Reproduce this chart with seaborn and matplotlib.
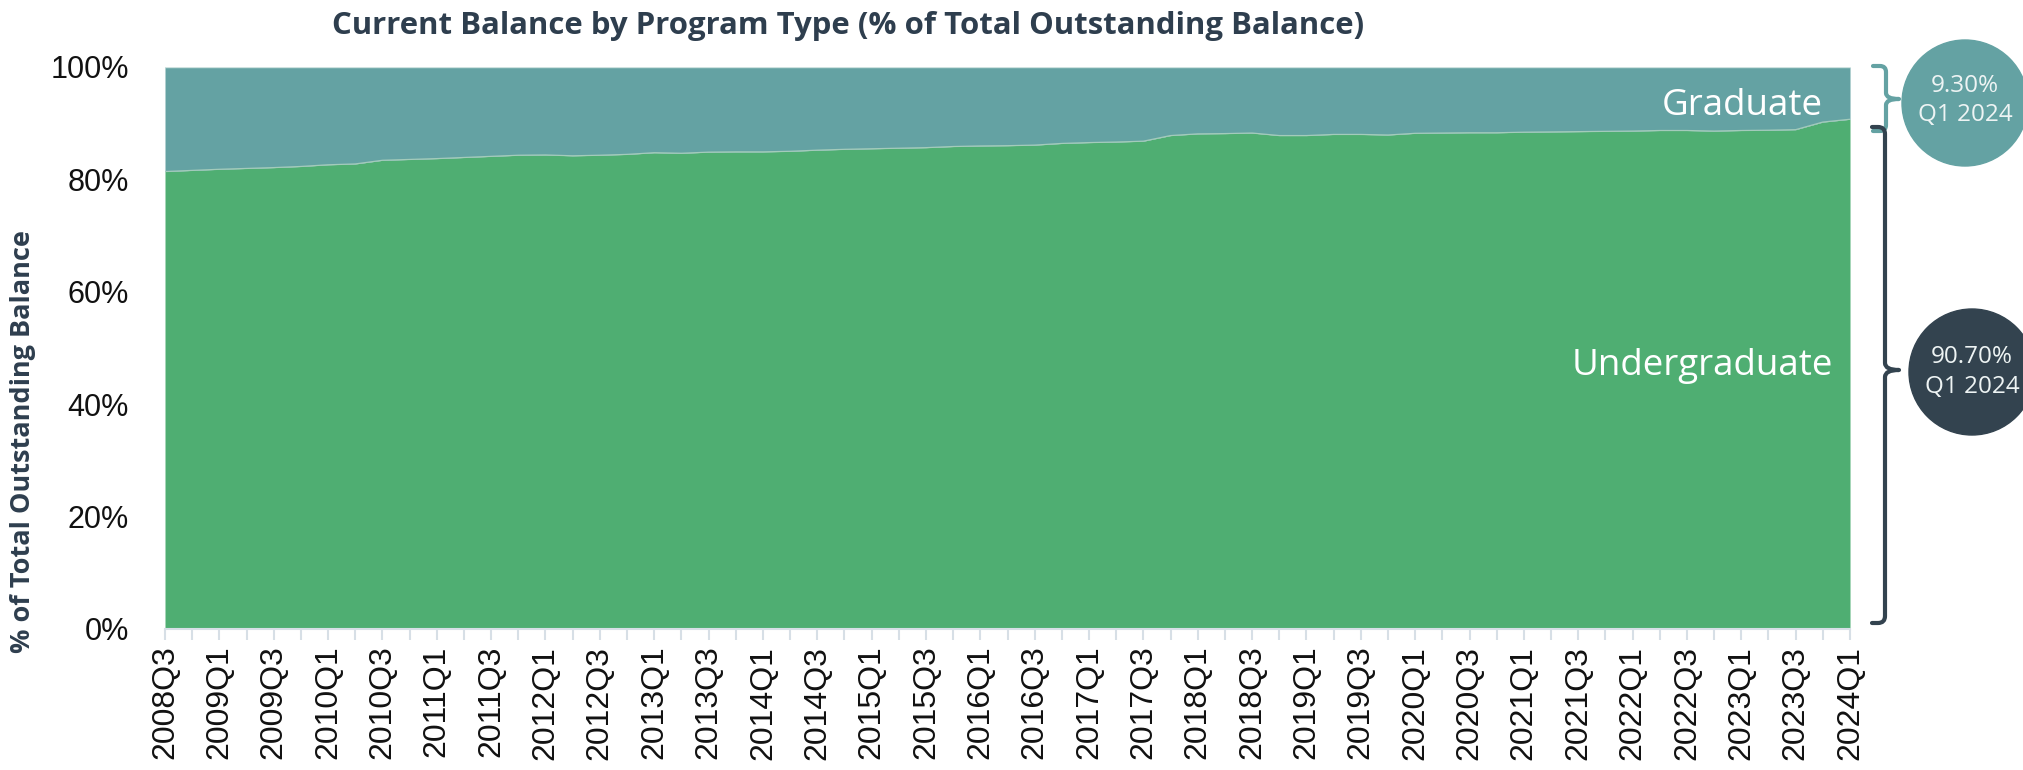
import numpy as np
import pandas as pd
import matplotlib
matplotlib.use("Agg")
import matplotlib.pyplot as plt
import seaborn as sns
from matplotlib.patches import Circle, PathPatch
from matplotlib.path import Path

# ---------------- data ----------------
years_q = [(2008, 3), (2008, 4)] + [(y, q) for y in range(2009, 2024) for q in (1, 2, 3, 4)] + [(2024, 1)]
quarters = [f"{y}Q{q}" for y, q in years_q]

undergrad_pct = [81.4, 81.6, 81.8, 81.95, 82.1, 82.3, 82.6, 82.75, 83.4, 83.55,
                 83.7, 83.9, 84.1, 84.3, 84.35, 84.2, 84.3, 84.45, 84.75, 84.65,
                 84.85, 84.9, 84.9, 85.0, 85.2, 85.35, 85.45, 85.55, 85.65, 85.85,
                 85.95, 86.0, 86.1, 86.4, 86.55, 86.65, 86.8, 87.8, 88.1, 88.15,
                 88.25, 87.8, 87.8, 88.0, 88.0, 87.9, 88.2, 88.25, 88.3, 88.3,
                 88.4, 88.45, 88.5, 88.55, 88.6, 88.7, 88.7, 88.6, 88.7, 88.75,
                 88.85, 90.2, 90.7]
graduate_pct = [100 - u for u in undergrad_pct]

y_ticks = [0, 20, 40, 60, 80, 100]
y_tick_labels = ["0%", "20%", "40%", "60%", "80%", "100%"]

last_grad_label = ["9.30%", "Q1 2024"]
last_ug_label = ["90.70%", "Q1 2024"]

df = pd.DataFrame({"idx": np.arange(len(quarters)), "quarter": quarters,
                   "Undergraduate": undergrad_pct, "Graduate": graduate_pct})
df["cum"] = df["Undergraduate"] + df["Graduate"]

# ---------------- style ----------------
GREEN = "#4fae72"
TEAL = "#64a2a3"
DARK = "#33434f"
TXT = "#2e3e4e"
AXC = "#d7dfe6"

sns.set_theme(style="white")
plt.rcParams["font.family"] = ["Liberation Sans", "DejaVu Sans"]

W, H = 2024, 770
fig = plt.figure(figsize=(W / 100, H / 100), dpi=100)
L, R, T, B = 165, 1850, 67, 629
ax = fig.add_axes([L / W, (H - B) / H, (R - L) / W, (B - T) / H])

ax.stackplot(df["idx"], df["Undergraduate"], df["Graduate"],
             colors=[GREEN, TEAL], linewidth=0)
sns.lineplot(data=df, x="idx", y="Undergraduate", ax=ax, color="#a3cbbb",
             linewidth=0.9, legend=False)
sns.lineplot(data=df, x="idx", y="cum", ax=ax, color="#cfe2e0",
             linewidth=1.0, legend=False)

ax.set_xlim(0, len(quarters) - 1)
ax.set_ylim(0, 100)
ax.set_xlabel("")
ax.set_ylabel("")

ax.set_xticks(df["idx"][::2])
ax.set_xticklabels(df["quarter"][::2], rotation=90, fontsize=23,
                   fontfamily="Liberation Sans", color="#111111")
ax.set_xticks(df["idx"][1::2], minor=True)
ax.tick_params(axis="x", which="both", length=8, width=1.5, color=AXC,
               pad=4, bottom=True)
ax.set_yticks(y_ticks)
ax.set_yticklabels(y_tick_labels, fontsize=22, color="#111111")
ax.tick_params(axis="y", length=0, pad=26)

for s in ["top", "right", "left"]:
    ax.spines[s].set_visible(False)
ax.spines["bottom"].set_color(AXC)
ax.spines["bottom"].set_linewidth(1.5)
ax.grid(False)

# title and y label
fig.text(848 / W, 1 - 26 / H,
         "Current Balance by Program Type (% of Total Outstanding Balance)",
         ha="center", va="center", fontsize=22.4, fontweight="bold",
         fontfamily="Open Sans", color=TXT)
fig.text(23 / W, 1 - 442 / H, "% of Total Outstanding Balance", rotation=90,
         ha="center", va="center", fontsize=19.5, fontweight="bold",
         fontfamily="Open Sans", color=TXT)

# ---------------- overlay for annotations (pixel coordinates) ----------------
ov = fig.add_axes([0, 0, 1, 1], facecolor="none")
ov.set_xlim(0, W)
ov.set_ylim(H, 0)
ov.axis("off")


def brace(x0, xv, xt, ytop, ybot, ymid, r, color):
    verts = [(x0, ytop), (xv - r, ytop), (xv, ytop), (xv, ytop + r),
             (xv, ymid - r), (xv, ymid), (xt, ymid),
             (xv, ymid), (xv, ymid + r),
             (xv, ybot - r), (xv, ybot), (xv - r, ybot), (x0, ybot)]
    codes = [Path.MOVETO, Path.LINETO, Path.CURVE3, Path.CURVE3,
             Path.LINETO, Path.CURVE3, Path.CURVE3,
             Path.CURVE3, Path.CURVE3,
             Path.LINETO, Path.CURVE3, Path.CURVE3, Path.LINETO]
    ov.add_patch(PathPatch(Path(verts, codes), fill=False, edgecolor=color,
                           linewidth=3, capstyle="round", joinstyle="round"))


brace(1873, 1886, 1899, 66, 131, 99, 6, TEAL)
brace(1872, 1885, 1899, 127, 623, 370, 7, DARK)

ov.add_patch(Circle((1965, 103), 63, color=TEAL, clip_on=False))
ov.add_patch(Circle((1972, 372), 63, color=DARK, clip_on=False))
ov.text(1965, 86, last_grad_label[0], ha="center", va="center", fontsize=17.5,
        fontfamily="Open Sans", color="#eef4f4")
ov.text(1965, 115, last_grad_label[1], ha="center", va="center", fontsize=17.5,
        fontfamily="Open Sans", color="#eef4f4")
ov.text(1972, 357, last_ug_label[0], ha="center", va="center", fontsize=17.5,
        fontfamily="Open Sans", color="#eef4f4")
ov.text(1972, 387, last_ug_label[1], ha="center", va="center", fontsize=17.5,
        fontfamily="Open Sans", color="#eef4f4")

ov.text(1823, 106, "Graduate", ha="right", va="center", fontsize=26.5,
        fontfamily="Open Sans", color="white")
ov.text(1833, 366, "Undergraduate", ha="right", va="center", fontsize=26.5,
        fontfamily="Open Sans", color="white")

fig.savefig("out.png", dpi=100)
